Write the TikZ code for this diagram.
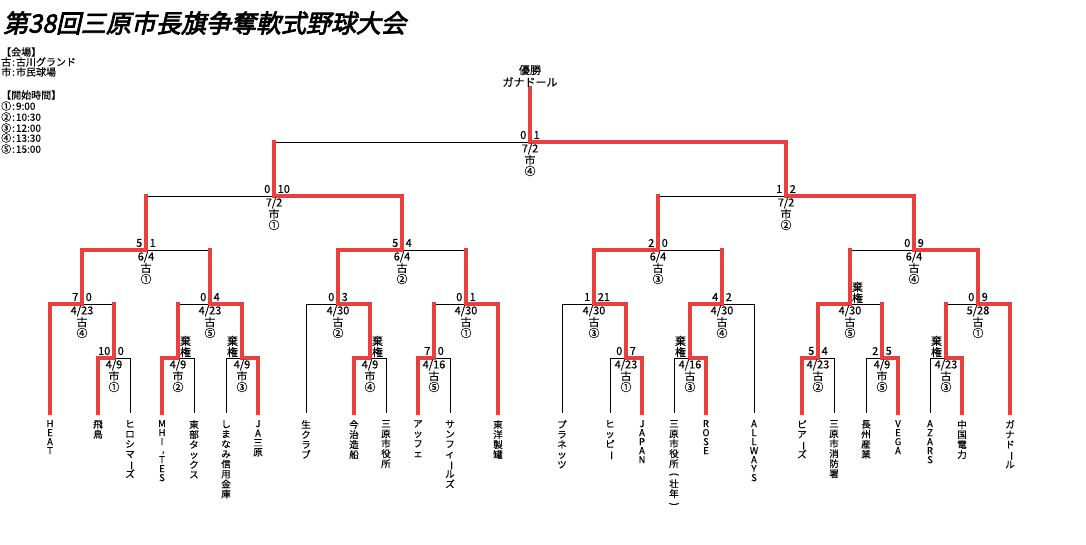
\documentclass[tikz,border=0pt]{standalone}
\usepackage{fontspec}
\setmainfont{Noto Sans CJK JP}
\newfontfamily\titlefont[FakeSlant=0.22,FakeBold=3]{Noto Sans CJK JP}
\newfontfamily\lblfont[FakeBold=0.25]{Noto Sans CJK JP}
\usetikzlibrary{calc}
\definecolor{brk}{HTML}{E84040}
\makeatletter
\newcommand\vstack[2][10pt]{\vbox{\baselineskip=#1\relax\lineskiplimit=-\maxdimen\lineskip=0pt\@tfor\vs@c:=#2\do{\hbox to 12pt{\hss\vs@c\hss}}}}
\makeatother
\newcommand\rotc[1]{\rotatebox[origin=c]{-90}{#1}}
\tikzset{
  bl/.style={draw=black,line width=0.8pt},
  win/.style={draw=brk,line width=3.2pt,line cap=rect,line join=miter},
  lbl/.style={font=\lblfont\fontsize{11}{10}\selectfont,inner sep=0pt},
  team/.style={anchor=north,inner sep=0pt,font=\lblfont\fontsize{9.5}{10}\selectfont},
  info/.style={anchor=west,inner sep=0pt,font=\lblfont\fontsize{10}{10}\selectfont},
}
\newcommand\leaf[4]{\coordinate (L#1) at (#2,413); \node[team] (N#1) at (#2,420) {\vstack[#3]{#4}};}
\newcommand\minfo[4]{%
  \node[lbl] (#1d) at ($(#1)+(0,7)$) {#2};
  \node[lbl] (#1v) at ($(#1)+(0,18)$) {#3};
  \node[lbl] (#1n) at ($(#1)+(0,29)$) {#4};}
\newcommand\mscore[3]{%
  \node[lbl,anchor=east] (#1sl) at ($(#1)+(-3.5,-7)$) {#2};
  \node[lbl,anchor=west] (#1sr) at ($(#1)+(3.5,-7)$) {#3};}
\newcommand\kikenR[1]{\node[lbl,align=center] (#1k) at ($(#1)+(7.5,-11.5)$) {棄\\権};}
\newcommand\kikenL[1]{\node[lbl,align=center] (#1k) at ($(#1)+(-9.5,-11.5)$) {棄\\権};}
\newcommand\bk[3]{\draw[bl] (#2) |- (#1); \draw[bl] (#3) |- (#1);}
\newcommand\wn[2]{\draw[win] (#2) |- (#1);}
\newcommand\up[2]{\draw[win] (#2) -- (#2 |- #1);}
\begin{document}
\begin{tikzpicture}[x=1pt,y=-1pt]
\fill[white] (0,0) rectangle (1086,545);
\useasboundingbox (0,0) rectangle (1086,545);
% title and info
\node[anchor=west,inner sep=0pt,font=\titlefont\fontsize{25}{25}\selectfont] (title) at (3,23) {第38回三原市長旗争奪軟式野球大会};
\node[info] (i1) at (1,52) {【会場】};
\node[info] (i2) at (1,62) {古\kern1pt:\kern1pt 古川グランド};
\node[info] (i3) at (1,72) {市\kern1pt:\kern1pt 市民球場};
\node[info] (i4) at (1,95) {【開始時間】};
\node[info] (i5) at (1,106) {①\kern1pt:\kern1pt 9:00};
\node[info] (i6) at (1,117) {②\kern1pt:\kern1pt 10:30};
\node[info] (i7) at (1,128) {③\kern1pt:\kern1pt 12:00};
\node[info] (i8) at (1,138) {④\kern1pt:\kern1pt 13:30};
\node[info] (i9) at (1,149) {⑤\kern1pt:\kern1pt 15:00};
% leaves
\leaf{1}{50}{9pt}{HEAT}
\leaf{2}{98}{10pt}{飛鳥}
\leaf{3}{130}{10pt}{ヒロシマ{\rotc{ー}}ズ}
\leaf{4}{162}{9pt}{MHI{\rotc{-}}TES}
\leaf{5}{194}{10pt}{東部タックス}
\leaf{6}{226}{10pt}{しまなみ信用金庫}
\leaf{7}{258}{9.5pt}{JA三原}
\leaf{8}{306}{10pt}{生クラブ}
\leaf{9}{354}{10pt}{今治造船}
\leaf{10}{386}{10pt}{三原市役所}
\leaf{11}{418}{10pt}{アッフェ}
\leaf{12}{450}{10pt}{サンフィ{\rotc{ー}}ルズ}
\leaf{13}{498}{10pt}{東洋製罐}
\leaf{14}{562}{10pt}{プラネッツ}
\leaf{15}{610}{10pt}{ヒッピ{\rotc{ー}}}
\leaf{16}{642}{9pt}{JAPAN}
\leaf{17}{674}{10pt}{三原市役所{\rotc{(}}壮年{\rotc{)}}}
\leaf{18}{706}{9pt}{ROSE}
\leaf{19}{754}{9pt}{ALLWAYS}
\leaf{20}{802}{10pt}{ピア{\rotc{ー}}ズ}
\leaf{21}{834}{10pt}{三原市消防署}
\leaf{22}{866}{10pt}{長州産業}
\leaf{23}{898}{9pt}{VEGA}
\leaf{24}{930}{9pt}{AZARS}
\leaf{25}{962}{10pt}{中国電力}
\leaf{26}{1010}{10pt}{ガナド{\rotc{ー}}ル}
% match points
\coordinate (a1) at (114,358); \coordinate (a2) at (178,358);
\coordinate (a3) at (242,358); \coordinate (a4) at (370,358);
\coordinate (a5) at (434,358); \coordinate (a6) at (626,358);
\coordinate (a7) at (690,358); \coordinate (a8) at (818,358);
\coordinate (a9) at (882,358); \coordinate (a10) at (946,358);
\coordinate (b1) at (82,304); \coordinate (b2) at (210,304);
\coordinate (b3) at (338,304); \coordinate (b4) at (466,304);
\coordinate (b5) at (594,304); \coordinate (b6) at (722,304);
\coordinate (b7) at (850,304); \coordinate (b8) at (978,304);
\coordinate (c1) at (146,250); \coordinate (c2) at (402,250);
\coordinate (c3) at (658,250); \coordinate (c4) at (914,250);
\coordinate (d1) at (274,196); \coordinate (d2) at (786,196);
\coordinate (f) at (530,142);
\coordinate (top) at (530,88);
% black brackets
\bk{a1}{L2}{L3} \bk{a2}{L4}{L5} \bk{a3}{L6}{L7} \bk{a4}{L9}{L10}
\bk{a5}{L11}{L12} \bk{a6}{L15}{L16} \bk{a7}{L17}{L18} \bk{a8}{L20}{L21}
\bk{a9}{L22}{L23} \bk{a10}{L24}{L25}
\bk{b1}{L1}{a1} \bk{b2}{a2}{a3} \bk{b3}{L8}{a4} \bk{b4}{a5}{L13}
\bk{b5}{L14}{a6} \bk{b6}{a7}{L19} \bk{b7}{a8}{a9} \bk{b8}{a10}{L26}
\bk{c1}{b1}{b2} \bk{c2}{b3}{b4} \bk{c3}{b5}{b6} \bk{c4}{b7}{b8}
\bk{d1}{c1}{c2} \bk{d2}{c3}{c4}
\bk{f}{d1}{d2}
% red winner paths
\wn{a1}{L2} \wn{a2}{L4} \wn{a3}{L7} \wn{a4}{L9} \wn{a5}{L11}
\wn{a6}{L16} \wn{a7}{L18} \wn{a8}{L20} \wn{a9}{L23} \wn{a10}{L25}
\wn{b1}{L1} \up{b1}{a1}
\wn{b2}{a3} \up{b2}{a2}
\wn{b3}{a4}
\wn{b4}{L13} \up{b4}{a5}
\wn{b5}{a6}
\wn{b6}{a7}
\wn{b7}{a8} \up{b7}{a9}
\wn{b8}{L26} \up{b8}{a10}
\wn{c1}{b1} \up{c1}{b2}
\wn{c2}{b3} \up{c2}{b4}
\wn{c3}{b5} \up{c3}{b6}
\wn{c4}{b8} \up{c4}{b7}
\wn{d1}{c2} \up{d1}{c1}
\wn{d2}{c4} \up{d2}{c3}
\wn{f}{d2} \up{f}{d1}
\draw[win] (f) -- (top);
% champion
\node[lbl] (ch1) at (530,70) {優勝};
\node[lbl] (ch2) at (530,82) {ガナドール};
% scores and info
\mscore{a1}{10}{0} \minfo{a1}{4/9}{市}{①}
\kikenR{a2} \minfo{a2}{4/9}{市}{②}
\kikenL{a3} \minfo{a3}{4/9}{市}{③}
\kikenR{a4} \minfo{a4}{4/9}{市}{④}
\mscore{a5}{7}{0} \minfo{a5}{4/16}{古}{⑤}
\mscore{a6}{0}{7} \minfo{a6}{4/23}{古}{①}
\kikenL{a7} \minfo{a7}{4/16}{古}{③}
\mscore{a8}{5}{4} \minfo{a8}{4/23}{古}{②}
\mscore{a9}{2}{5} \minfo{a9}{4/9}{市}{⑤}
\kikenL{a10} \minfo{a10}{4/23}{古}{③}
\mscore{b1}{7}{0} \minfo{b1}{4/23}{古}{④}
\mscore{b2}{0}{4} \minfo{b2}{4/23}{古}{⑤}
\mscore{b3}{0}{3} \minfo{b3}{4/30}{古}{②}
\mscore{b4}{0}{1} \minfo{b4}{4/30}{古}{①}
\mscore{b5}{1}{21} \minfo{b5}{4/30}{古}{③}
\mscore{b6}{4}{2} \minfo{b6}{4/30}{古}{④}
\kikenR{b7} \minfo{b7}{4/30}{古}{⑤}
\mscore{b8}{0}{9} \minfo{b8}{5/28}{古}{①}
\mscore{c1}{5}{1} \minfo{c1}{6/4}{古}{①}
\mscore{c2}{5}{4} \minfo{c2}{6/4}{古}{②}
\mscore{c3}{2}{0} \minfo{c3}{6/4}{古}{③}
\mscore{c4}{0}{9} \minfo{c4}{6/4}{古}{④}
\mscore{d1}{0}{10} \minfo{d1}{7/2}{市}{①}
\mscore{d2}{1}{2} \minfo{d2}{7/2}{市}{②}
\mscore{f}{0}{1} \minfo{f}{7/2}{市}{④}
\end{tikzpicture}
\end{document}
